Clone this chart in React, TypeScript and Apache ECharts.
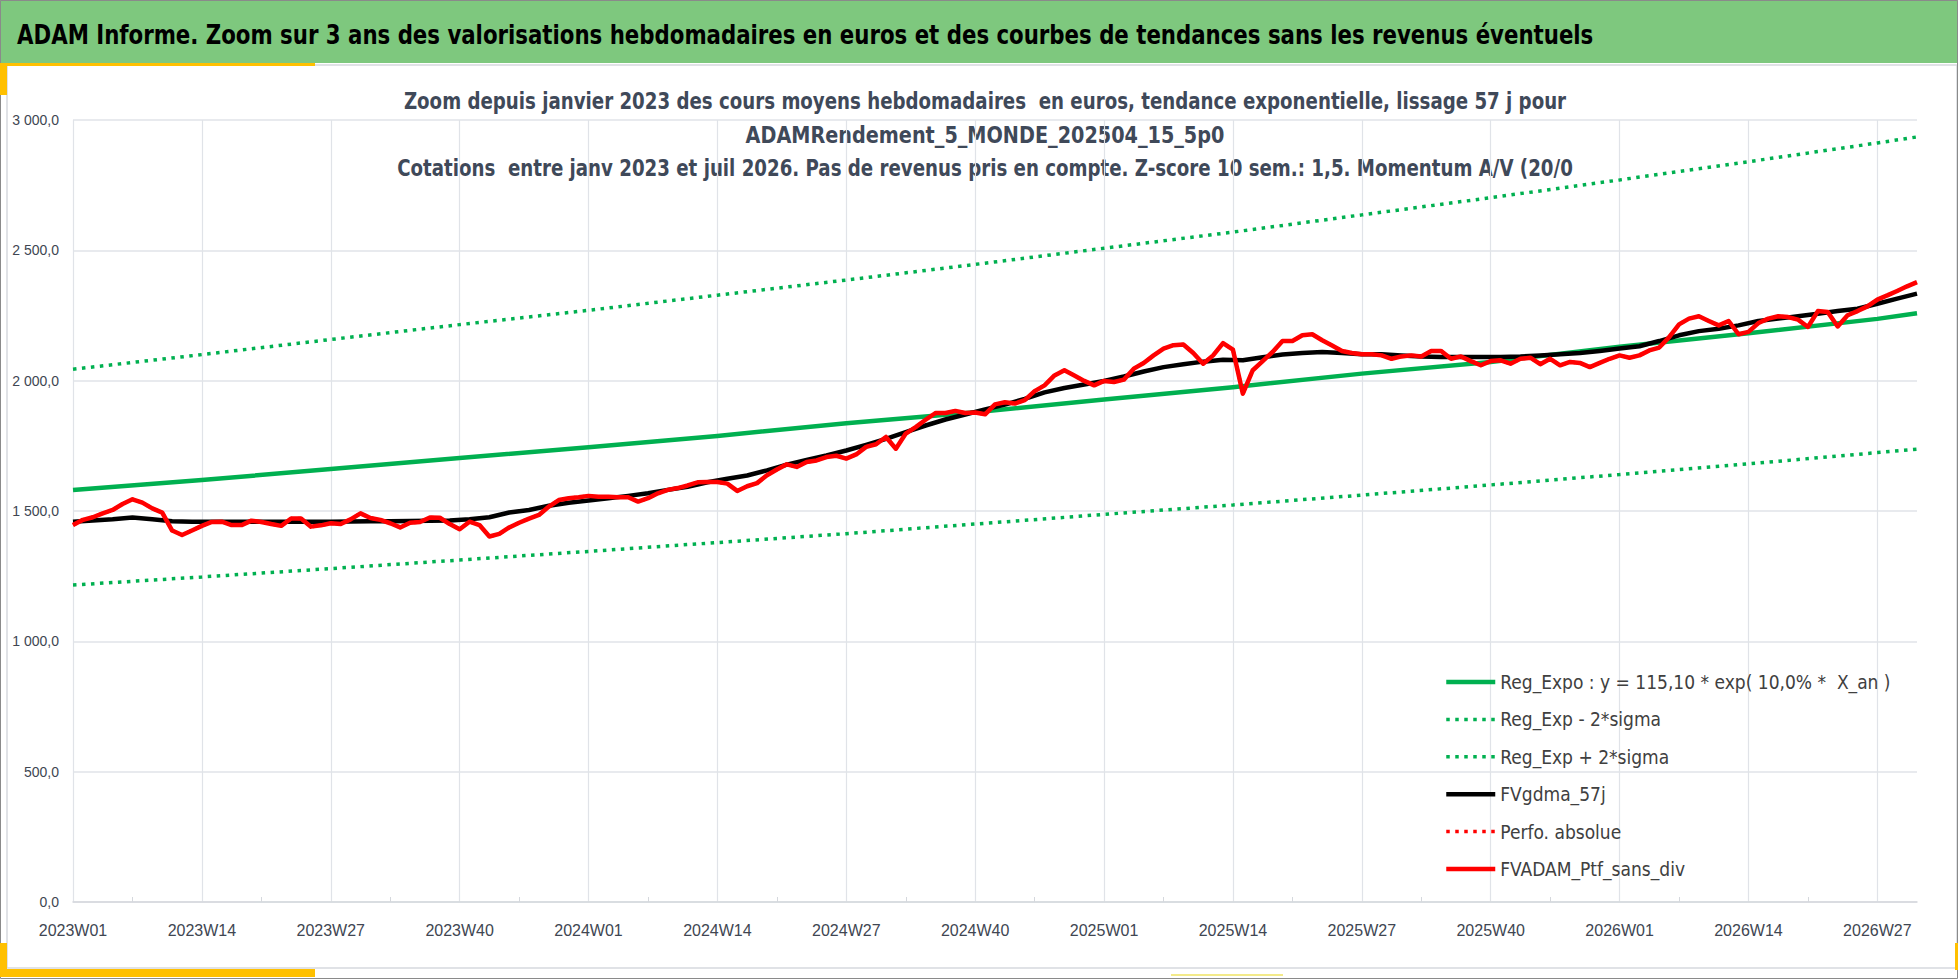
import { useEffect, useRef } from "react";
import * as echarts from "echarts";

// Weekly categories, 2023W01 .. 2026W31
const WEEKS: string[] = [];
for (const [year, count] of [
  [2023, 52],
  [2024, 52],
  [2025, 52],
  [2026, 31],
]) {
  for (let w = 1; w <= count; w++) WEEKS.push(`${year}W${String(w).padStart(2, "0")}`);
}

// Trend curves read at the labelled weeks (+ last week)
const TREND_WEEKS = [
  "2023W01", "2023W14", "2023W27", "2023W40", "2024W01", "2024W14", "2024W27", "2024W40",
  "2025W01", "2025W14", "2025W27", "2025W40", "2026W01", "2026W14", "2026W27", "2026W31",
];
const REG_EXPO = [1581, 1619, 1661, 1703, 1745, 1788, 1837, 1879, 1928, 1975, 2027, 2072, 2130, 2182, 2237, 2259];
const REG_MINUS = [1216, 1247, 1279, 1312, 1345, 1379, 1413, 1450, 1487, 1523, 1561, 1600, 1640, 1681, 1724, 1737];
const REG_PLUS = [2044, 2100, 2158, 2215, 2270, 2328, 2386, 2446, 2508, 2570, 2636, 2702, 2770, 2840, 2912, 2935];

// FVgdma_57j, read every 2nd week from 2023W01
const FVGDMA_57J = [
  1459, 1464, 1468, 1475, 1468, 1461, 1459, 1459, 1459, 1459, 1459, 1459, 1459, 1459, 1460, 1461,
  1461, 1462, 1463, 1464, 1468, 1476, 1494, 1504, 1520, 1532, 1540, 1549, 1558, 1568, 1581, 1593,
  1610, 1624, 1636, 1656, 1678, 1696, 1713, 1732, 1754, 1777, 1803, 1828, 1851, 1870, 1890, 1908,
  1930, 1955, 1972, 1985, 1999, 2016, 2035, 2052, 2063, 2073, 2080, 2078, 2090, 2100, 2106, 2110,
  2106, 2101, 2101, 2097, 2093, 2091, 2091, 2091, 2091, 2093, 2097, 2101, 2106, 2114, 2123, 2132,
  2152, 2174, 2190, 2199, 2212, 2229, 2238, 2247, 2257, 2267, 2276, 2295, 2315, 2334,
];

// FVADAM_Ptf_sans_div, weekly
const FVADAM = [
  1446, 1466, 1476, 1491, 1504, 1527, 1545, 1532, 1510, 1494, 1425, 1408, 1425, 1443, 1458, 1459,
  1446, 1446, 1463, 1458, 1450, 1443, 1471, 1471, 1440, 1445, 1453, 1450, 1468, 1491, 1473, 1466,
  1453, 1437, 1455, 1458, 1475, 1474, 1450, 1430, 1459, 1446, 1402, 1412, 1437, 1455, 1471, 1485,
  1517, 1542, 1549, 1553, 1558, 1555, 1555, 1553, 1553, 1536, 1549, 1568, 1581, 1588, 1598, 1610,
  1611, 1611, 1605, 1577, 1595, 1607, 1637, 1659, 1679, 1669, 1688, 1694, 1707, 1712, 1701, 1717,
  1746, 1756, 1784, 1739, 1797, 1822, 1850, 1876, 1876, 1884, 1876, 1878, 1871, 1909, 1917, 1912,
  1925, 1960, 1982, 2020, 2040, 2020, 1999, 1982, 1999, 1995, 2004, 2046, 2068, 2097, 2123, 2136,
  2139, 2106, 2065, 2097, 2144, 2119, 1950, 2040, 2075, 2110, 2152, 2152, 2174, 2178, 2155, 2135,
  2114, 2106, 2101, 2101, 2097, 2084, 2093, 2097, 2093, 2114, 2114, 2084, 2093, 2075, 2059, 2075,
  2078, 2065, 2084, 2088, 2063, 2084, 2059, 2072, 2068, 2052, 2068, 2084, 2097, 2088, 2097, 2116,
  2127, 2167, 2216, 2238, 2247, 2229, 2212, 2229, 2178, 2187, 2221, 2238, 2247, 2244, 2234, 2206,
  2267, 2263, 2208, 2251, 2267, 2285, 2311, 2327, 2344, 2362, 2378,
];

const TITLE =
  "ADAM Informe. Zoom sur 3 ans des valorisations hebdomadaires en euros et des courbes de tendances sans les revenus éventuels";
const SUBTITLE = [
  "Zoom depuis janvier 2023 des cours moyens hebdomadaires  en euros, tendance exponentielle, lissage 57 j pour",
  "ADAMRendement_5_MONDE_202504_15_5p0",
  "Cotations  entre janv 2023 et juil 2026. Pas de revenus pris en compte. Z-score 10 sem.: 1,5. Momentum A/V (20/0",
];

const NARROW = "'Liberation Sans Narrow', 'DejaVu Sans Condensed', sans-serif";
const GREEN = "#00b050";
const RED = "#ff0000";
const GRID = "#e0e3e8";
const LABEL = "#404652";
const YELLOW = "#ffc000";

const fmtValue = (v: number) => {
  const [i, d] = v.toFixed(1).split(".");
  return i.replace(/\B(?=(\d{3})+(?!\d))/g, " ") + "," + d;
};

const pairs = (labels: string[], values: number[]) => values.map((v, i) => [labels[i], v]);

const App = () => {
  const chartRef = useRef<HTMLDivElement>(null);

  useEffect(() => {
    document.body.style.margin = "0";
    if (!chartRef.current) return;
    const chart = echarts.init(chartRef.current, undefined, { renderer: "svg" });

    const dotted = (color: string) => ({
      width: 3.5,
      color,
      type: [3.5, 5.5] as number[],
      cap: "butt" as const,
    });

    const option: echarts.EChartsOption = {
      animation: false,
      backgroundColor: "#ffffff",
      graphic: [
        { type: "rect", shape: { x: 0, y: 0, width: 1958, height: 63 }, style: { fill: "#7ec87e" } },
        {
          type: "rect",
          shape: { x: 7, y: 65, width: 1950, height: 903 },
          style: { fill: "none", stroke: "#d6d9de", lineWidth: 1.5 },
        },
        {
          type: "rect",
          shape: { x: 0.5, y: 0.5, width: 1957, height: 978 },
          style: { fill: "none", stroke: "#8a8a8a", lineWidth: 1 },
        },
        { type: "rect", shape: { x: 0, y: 63, width: 315, height: 3 }, style: { fill: YELLOW } },
        { type: "rect", shape: { x: 0, y: 65, width: 7, height: 30 }, style: { fill: YELLOW } },
        { type: "rect", shape: { x: 0, y: 943, width: 7, height: 34 }, style: { fill: YELLOW } },
        { type: "rect", shape: { x: 0, y: 969, width: 315, height: 8 }, style: { fill: YELLOW } },
        { type: "rect", shape: { x: 1955, y: 943, width: 3, height: 27 }, style: { fill: YELLOW } },
        { type: "rect", shape: { x: 1171, y: 974, width: 112, height: 2 }, style: { fill: "#f3ea8a" } },
        {
          type: "text",
          x: 17,
          y: 34,
          scaleX: 0.877,
          style: {
            text: TITLE,
            fill: "#000000",
            fontSize: 27,
            fontWeight: "bold",
            fontFamily: NARROW,
            verticalAlign: "middle",
          },
        },
        ...SUBTITLE.map((t, i) => ({
          type: "text" as const,
          x: 985,
          y: [101, 135, 168][i],
          scaleX: i === 1 ? 0.93 : 0.88,
          style: {
            text: t,
            fill: "#3f4959",
            fontSize: 23,
            fontWeight: "bold" as const,
            fontFamily: NARROW,
            align: "center" as const,
            verticalAlign: "middle" as const,
          },
        })),
      ],
      legend: {
        orient: "vertical",
        left: 1444,
        top: 672,
        padding: 0,
        itemWidth: 49,
        itemHeight: 14,
        itemGap: 17.4,
        itemStyle: { opacity: 0 },
        lineStyle: { width: "inherit" },
        textStyle: { color: "#404040", fontSize: 19, fontFamily: NARROW, lineHeight: 20 },
        data: [
          "Reg_Expo : y = 115,10 * exp( 10,0% *  X_an )",
          "Reg_Exp - 2*sigma",
          "Reg_Exp + 2*sigma",
          "FVgdma_57j",
          "Perfo. absolue",
          "FVADAM_Ptf_sans_div",
        ],
      },
      grid: { left: 73, right: 41, top: 120, bottom: 77 },
      xAxis: {
        type: "category",
        data: WEEKS,
        boundaryGap: false,
        axisLine: { show: true, lineStyle: { color: "#d5d8dd", width: 1.5 } },
        axisTick: {
          show: true,
          inside: true,
          length: 5,
          interval: (i: number) => i % 13 === 6,
          lineStyle: { color: "#d5d8dd" },
        },
        axisLabel: {
          interval: 12,
          color: LABEL,
          fontSize: 16,
          fontFamily: "'Liberation Sans', Arial, sans-serif",
          margin: 20,
        },
        splitLine: { show: true, interval: 12, lineStyle: { color: GRID, width: 1.2 } },
      },
      yAxis: {
        type: "value",
        min: 0,
        max: 3000,
        interval: 500,
        axisLine: { show: false },
        axisTick: { show: false },
        axisLabel: {
          color: LABEL,
          fontSize: 14,
          fontFamily: "'Liberation Sans', Arial, sans-serif",
          margin: 14,
          formatter: (v: number) => fmtValue(v),
        },
        splitLine: { lineStyle: { color: GRID, width: 1.5 } },
      },
      series: [
        {
          name: "Reg_Expo : y = 115,10 * exp( 10,0% *  X_an )",
          type: "line",
          data: pairs(TREND_WEEKS, REG_EXPO),
          symbol: "none",
          lineStyle: { width: 4.5, color: GREEN, join: "round" },
          itemStyle: { color: GREEN },
        },
        {
          name: "Reg_Exp - 2*sigma",
          type: "line",
          data: pairs(TREND_WEEKS, REG_MINUS),
          symbol: "none",
          lineStyle: dotted(GREEN),
          itemStyle: { color: GREEN },
        },
        {
          name: "Reg_Exp + 2*sigma",
          type: "line",
          data: pairs(TREND_WEEKS, REG_PLUS),
          symbol: "none",
          lineStyle: dotted(GREEN),
          itemStyle: { color: GREEN },
        },
        {
          name: "FVgdma_57j",
          type: "line",
          data: FVGDMA_57J.map((v, i) => [WEEKS[i * 2], v]),
          symbol: "none",
          lineStyle: { width: 4.5, color: "#000000", join: "round" },
          itemStyle: { color: "#000000" },
        },
        {
          name: "Perfo. absolue",
          type: "line",
          data: pairs(WEEKS, FVADAM),
          symbol: "none",
          lineStyle: dotted(RED),
          itemStyle: { color: RED },
        },
        {
          name: "FVADAM_Ptf_sans_div",
          type: "line",
          data: pairs(WEEKS, FVADAM),
          symbol: "none",
          lineStyle: { width: 4.5, color: RED, join: "round" },
          itemStyle: { color: RED },
        },
      ],
    };

    chart.setOption(option);
    const handleResize = () => chart.resize();
    window.addEventListener("resize", handleResize);
    return () => {
      window.removeEventListener("resize", handleResize);
      chart.dispose();
    };
  }, []);

  return <div ref={chartRef} style={{ width: "1958px", height: "979px" }} />;
};

export default App;
